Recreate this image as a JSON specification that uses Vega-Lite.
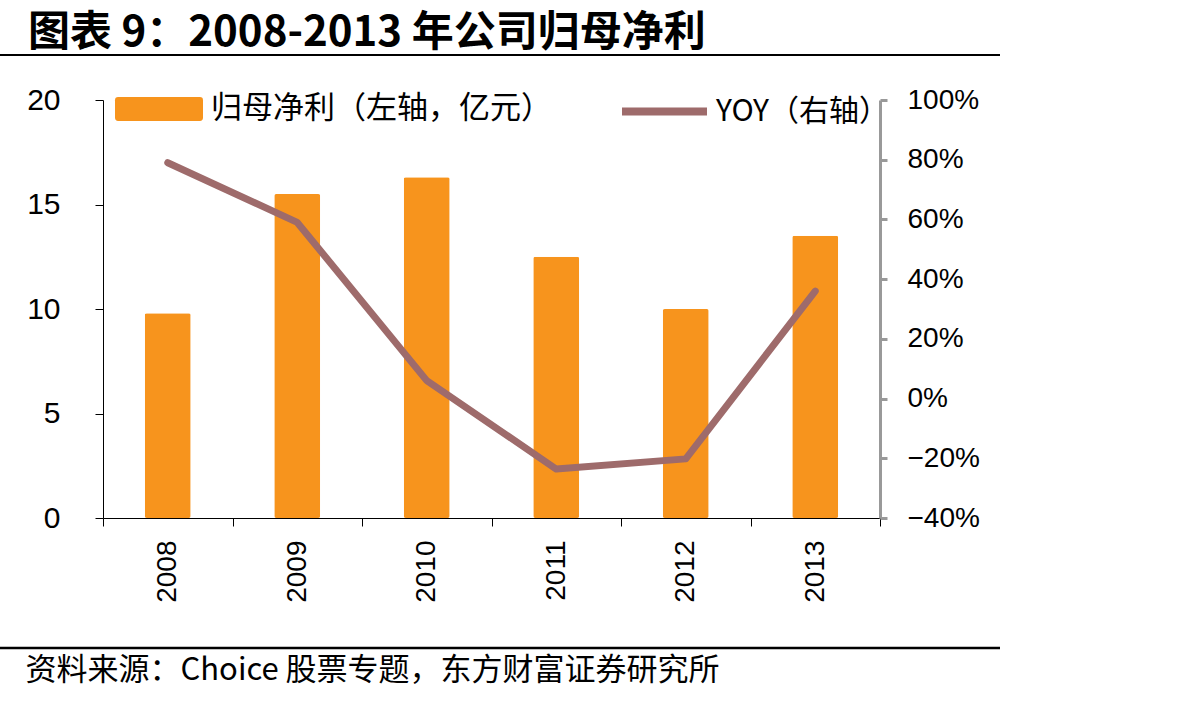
{
  "$schema": "https://vega.github.io/schema/vega-lite/v6.json",
  "width": 777,
  "height": 418,
  "autosize": {"type": "none"},
  "padding": {"left": 103, "top": 100, "right": 312, "bottom": 183},
  "background": "white",
  "title": {
    "text": "图表 9：2008-2013 年公司归母净利",
    "anchor": "start",
    "frame": "group",
    "font": "Noto Sans CJK SC",
    "fontSize": 42,
    "fontWeight": "bold",
    "color": "#000000",
    "dx": -75,
    "dy": 21,
    "offset": 20
  },
  "data": {
    "values": [
      {"year": "2008", "profit": 9.8, "yoy": 0.79},
      {"year": "2009", "profit": 15.5, "yoy": 0.59},
      {"year": "2010", "profit": 16.3, "yoy": 0.06},
      {"year": "2011", "profit": 12.5, "yoy": -0.236},
      {"year": "2012", "profit": 10.0, "yoy": -0.202},
      {"year": "2013", "profit": 13.5, "yoy": 0.36}
    ]
  },
  "encoding": {
    "x": {
      "field": "year",
      "type": "nominal",
      "scale": {"paddingInner": 0, "paddingOuter": 0},
      "axis": {
        "title": "资料来源：Choice 股票专题，东方财富证券研究所",
        "titleFont": "Noto Sans CJK SC",
        "titleFontSize": 31,
        "titleFontWeight": "normal",
        "titleColor": "#000000",
        "titleAngle": 0,
        "titleAlign": "left",
        "titleBaseline": "middle",
        "titleX": -78,
        "titleY": 152,
        "labelAngle": -90,
        "labelFont": "Liberation Sans",
        "labelFontSize": 28,
        "labelColor": "#000000",
        "labelPadding": 14,
        "tickBand": "extent",
        "tickSize": 8,
        "tickColor": "#000000",
        "domainColor": "#000000",
        "grid": false
      }
    }
  },
  "layer": [
    {
      "mark": {"type": "bar", "cornerRadius": 2, "width": {"band": 0.355}},
      "encoding": {
        "y": {
          "field": "profit",
          "type": "quantitative",
          "scale": {"domain": [0, 20], "nice": false},
          "axis": {
            "title": null,
            "values": [0, 5, 10, 15, 20],
            "grid": false,
            "labelFont": "Liberation Sans",
            "labelFontSize": 30,
            "labelColor": "#000000",
            "labelPadding": 35,
            "tickSize": 8,
            "tickColor": "#000000",
            "domainColor": "#000000"
          }
        },
        "fill": {
          "datum": "归母净利（左轴，亿元）",
          "scale": {"range": ["#F7941D"]},
          "legend": {
            "title": null,
            "orient": "none",
            "legendX": 12,
            "legendY": -35,
            "padding": 0,
            "symbolType": "M-1,-0.2 Q-1,-0.27 -0.93,-0.27 L0.93,-0.27 Q1,-0.27 1,-0.2 L1,0.2 Q1,0.27 0.93,0.27 L-0.93,0.27 Q-1,0.27 -1,0.2 Z",
            "symbolSize": 7744,
            "symbolOpacity": 1,
            "symbolStrokeWidth": 0,
            "labelFont": "Noto Sans CJK SC",
            "labelFontSize": 31,
            "labelColor": "#000000",
            "labelOffset": 8,
            "labelLimit": 600
          }
        }
      }
    },
    {
      "mark": {"type": "line", "strokeWidth": 7, "strokeCap": "round", "strokeJoin": "round"},
      "encoding": {
        "y": {
          "field": "yoy",
          "type": "quantitative",
          "scale": {"domain": [-0.4, 1.0], "nice": false},
          "axis": {
            "orient": "right",
            "title": null,
            "format": ".0%",
            "values": [-0.4, -0.2, 0, 0.2, 0.4, 0.6, 0.8, 1.0],
            "grid": false,
            "labelFont": "Liberation Sans",
            "labelFontSize": 28,
            "labelColor": "#000000",
            "labelPadding": 20,
            "tickSize": 7,
            "tickWidth": 3,
            "tickColor": "#999999",
            "domainColor": "#999999",
            "domainWidth": 3
          }
        },
        "stroke": {
          "datum": "YOY（右轴）",
          "scale": {"range": ["#9E6B6B"]},
          "legend": {
            "title": null,
            "orient": "none",
            "legendX": 515,
            "legendY": -35,
            "padding": 0,
            "symbolType": "stroke",
            "symbolSize": 7225,
            "symbolStrokeWidth": 8,
            "labelFont": "Noto Sans CJK SC",
            "labelFontSize": 30,
            "labelColor": "#000000",
            "labelOffset": 5,
            "labelLimit": 600
          }
        }
      }
    },
    {
      "data": {"values": [{"k": 1}]},
      "mark": {"type": "rule", "color": "#000000", "strokeWidth": 2},
      "encoding": {
        "x": {"value": -103},
        "x2": {"value": 897},
        "y": {"value": -45}
      }
    },
    {
      "data": {"values": [{"k": 1}]},
      "mark": {"type": "rule", "color": "#000000", "strokeWidth": 2.5},
      "encoding": {
        "x": {"value": -103},
        "x2": {"value": 897},
        "y": {"value": 548}
      }
    }
  ],
  "resolve": {"scale": {"y": "independent"}},
  "config": {
    "view": {"stroke": null}
  }
}
